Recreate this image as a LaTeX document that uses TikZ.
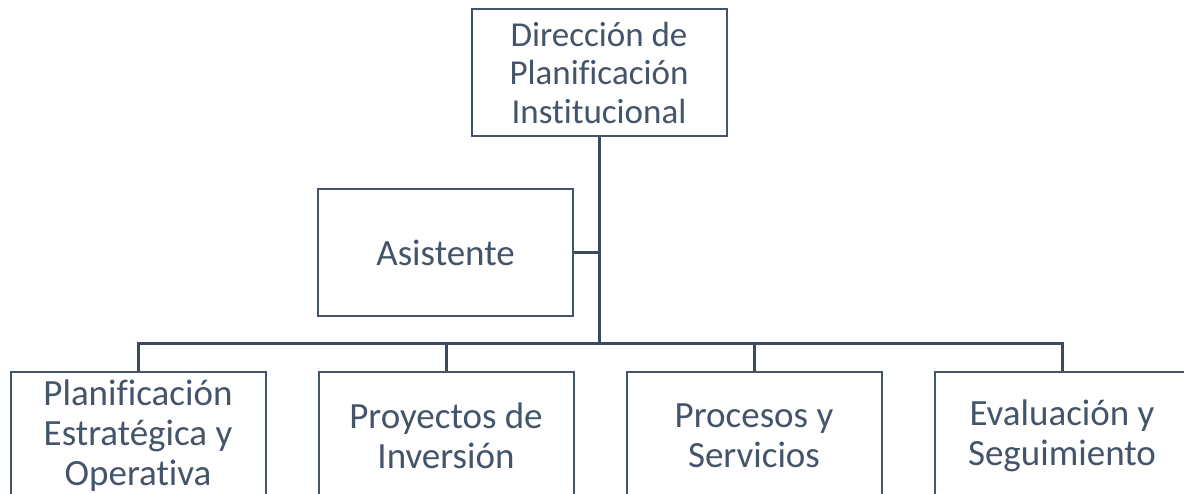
\documentclass[tikz,border=0pt]{standalone}
\usepackage{fontspec}
\setmainfont{Carlito}[Ligatures=NoCommon]
\definecolor{boxtext}{RGB}{68,84,106}
\definecolor{linkline}{RGB}{59,74,94}

\newcommand{\boxw}{255pt}
\newcommand{\boxh}{127pt}

\tikzset{
  unit/.style={draw=boxtext, line width=2pt, text=boxtext, fill=white,
    minimum width=\boxw, minimum height=\boxh, inner sep=0pt,
    align=center, font=\fontsize{35}{38.5}\selectfont},
  subunit/.style={unit, font=\fontsize{37}{40}\selectfont},
  link/.style={draw=linkline, line width=3pt}
}

\begin{document}
\begin{tikzpicture}[x=1pt,y=-1pt]

% page frame
\clip (0,0) rectangle (1184,494);

% draw boxes
\node[unit] (dir) at (599,72.5) {Dirección de\\Planificación\\Institucional};
\node[subunit] (asis) at (445.5,253) {Asistente};

\node[subunit, anchor=north] (pe) at (138,371) {Planificación\\Estratégica y\\Operativa};
\node[subunit, anchor=north] (pi) at (446,371) {Proyectos de\\Inversión};
\node[subunit, anchor=north] (ps) at (754,371) {Procesos y\\Servicios};
\node[subunit, anchor=north] (es) at (1062,371) {Evaluación y\\Seguimiento};

% draw links
\coordinate (bus) at (599,344);
\draw[link] (dir.south) -- (bus);
\draw[link] (asis.east) -- (asis.east -| bus);
\foreach \n in {pe,pi,ps,es}
  \draw[link] (bus) -| (\n.north);

\end{tikzpicture}
\end{document}
